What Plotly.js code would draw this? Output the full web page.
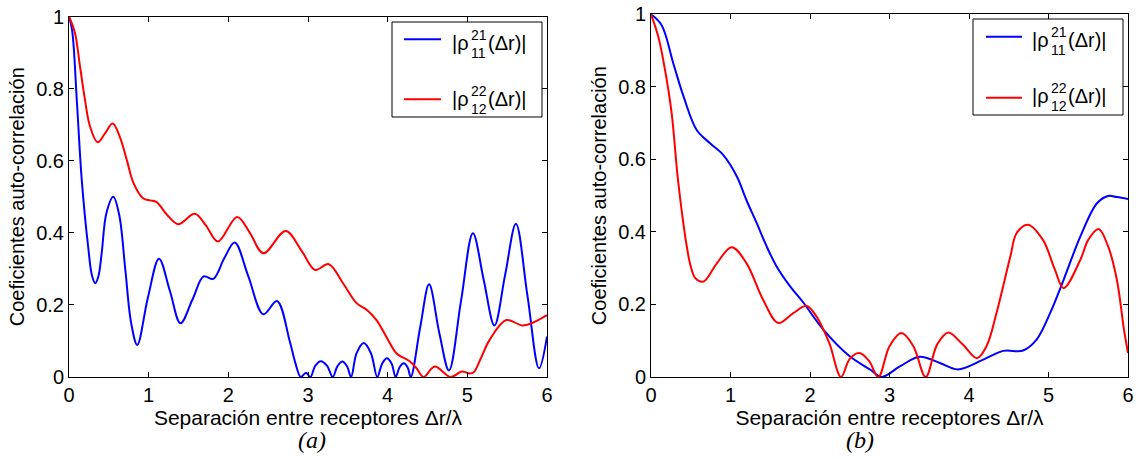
<!DOCTYPE html>
<html>
<head>
<meta charset="utf-8">
<script src="https://cdn.plot.ly/plotly-3.0.1.min.js"></script>
<style>
  html, body { margin: 0; padding: 0; background: #fff; }
  #chart { width: 1136px; height: 459px; }
</style>
</head>
<body>
<div id="chart"></div>
<script>
// Separation between receivers, Δr/λ, and |ρ| values for panel (a)
const sepA_rho11 = [0, 0.04, 0.1, 0.16, 0.24, 0.29, 0.33, 0.37, 0.41, 0.47, 0.556, 0.63, 0.706, 0.78, 0.857, 0.99, 1.13, 1.265, 1.40, 1.55, 1.69, 1.81, 1.95, 2.08, 2.25, 2.44, 2.61, 2.77, 2.84, 2.91, 2.975, 3.03, 3.09, 3.16, 3.24, 3.31, 3.37, 3.43, 3.49, 3.54, 3.61, 3.70, 3.79, 3.87, 3.93, 3.99, 4.05, 4.10, 4.15, 4.20, 4.25, 4.29, 4.41, 4.52, 4.65, 4.77, 4.92, 5.07, 5.205, 5.34, 5.475, 5.61, 5.755, 5.90, 6.0];
const rhoA_11 = [1, 0.96, 0.76, 0.547, 0.362, 0.28, 0.26, 0.28, 0.343, 0.455, 0.50, 0.45, 0.30, 0.15, 0.089, 0.22, 0.328, 0.24, 0.149, 0.215, 0.279, 0.272, 0.33, 0.373, 0.28, 0.174, 0.211, 0.10, 0.04, 0.0, 0.012, 0.0, 0.031, 0.044, 0.031, 0.0, 0.03, 0.043, 0.03, 0.0, 0.066, 0.094, 0.066, 0.0, 0.037, 0.052, 0.037, 0.0, 0.027, 0.038, 0.027, 0.0, 0.14, 0.257, 0.12, 0.018, 0.21, 0.399, 0.27, 0.143, 0.284, 0.425, 0.225, 0.024, 0.112];

const sepA_rho12 = [0, 0.075, 0.138, 0.2, 0.264, 0.36, 0.45, 0.548, 0.64, 0.724, 0.81, 0.93, 1.02, 1.10, 1.23, 1.37, 1.58, 1.72, 1.87, 2.11, 2.27, 2.44, 2.72, 2.92, 3.09, 3.26, 3.44, 3.61, 3.74, 3.86, 4.0, 4.11, 4.28, 4.36, 4.45, 4.59, 4.79, 4.93, 5.03, 5.08, 5.16, 5.28, 5.49, 5.70, 6.0];
const rhoA_12 = [1, 0.954, 0.862, 0.77, 0.695, 0.651, 0.675, 0.703, 0.665, 0.603, 0.538, 0.496, 0.49, 0.485, 0.45, 0.424, 0.453, 0.42, 0.376, 0.444, 0.40, 0.343, 0.405, 0.35, 0.297, 0.313, 0.26, 0.205, 0.186, 0.158, 0.105, 0.066, 0.043, 0.025, 0.0, 0.029, 0.0, 0.015, 0.010, 0.013, 0.047, 0.103, 0.158, 0.143, 0.172];

// Panel (b)
const sepB_rho11 = [0, 0.134, 0.28, 0.41, 0.575, 0.74, 0.91, 1.08, 1.20, 1.33, 1.455, 1.58, 1.75, 1.92, 2.17, 2.50, 2.76, 2.90, 3.13, 3.38, 3.64, 3.86, 4.18, 4.43, 4.68, 4.85, 5.02, 5.19, 5.40, 5.61, 5.75, 5.86, 6.0];
const rhoB_11 = [1, 0.970, 0.865, 0.773, 0.681, 0.645, 0.612, 0.553, 0.488, 0.424, 0.36, 0.305, 0.25, 0.204, 0.130, 0.057, 0.02, 0.0, 0.029, 0.056, 0.038, 0.021, 0.048, 0.072, 0.073, 0.103, 0.176, 0.268, 0.387, 0.479, 0.499, 0.496, 0.491];

const sepB_rho12 = [0, 0.092, 0.176, 0.26, 0.34, 0.45, 0.50, 0.56, 0.66, 0.83, 1.015, 1.20, 1.41, 1.60, 1.79, 1.96, 2.08, 2.17, 2.25, 2.39, 2.50, 2.62, 2.74, 2.86, 3.0, 3.15, 3.30, 3.455, 3.60, 3.74, 3.92, 4.10, 4.22, 4.35, 4.52, 4.60, 4.74, 4.93, 5.08, 5.19, 5.40, 5.50, 5.63, 5.75, 5.86, 5.95, 6.0];
const rhoB_12 = [1, 0.938, 0.847, 0.727, 0.543, 0.36, 0.305, 0.272, 0.263, 0.314, 0.358, 0.314, 0.213, 0.149, 0.176, 0.196, 0.167, 0.13, 0.089, 0.0, 0.05, 0.066, 0.045, 0.0, 0.085, 0.121, 0.085, 0.0, 0.09, 0.123, 0.09, 0.052, 0.085, 0.18, 0.332, 0.397, 0.420, 0.378, 0.296, 0.245, 0.323, 0.378, 0.408, 0.36, 0.268, 0.13, 0.066];

const xTicks = [0, 1, 2, 3, 4, 5, 6];
const yTicks = [0, 0.2, 0.4, 0.6, 0.8, 1];
const yTickText = ['0', '0.2', '0.4', '0.6', '0.8', '1'];

const seriesNames = ['|ρ<sup>21</sup><sub>11</sub>(Δr)|', '|ρ<sup>22</sup><sub>12</sub>(Δr)|'];
const seriesSup = ['21', '22'];
const seriesSub = ['11', '12'];
const seriesColors = ['#0000ff', '#ff0000'];
const panelLabels = ['(a)', '(b)'];
const xTitle = 'Separación entre receptores Δr/λ';
const yTitle = 'Coeficientes auto-correlación';

const W = 1136, H = 459;
const SANS = 'Liberation Sans, Arial, sans-serif';
const SERIF = 'Liberation Serif, Times New Roman, serif';
const px = v => v / W;
const py = v => 1 - v / H;

function curve(x, y, i, xa, ya) {
  return {
    x: x, y: y, name: seriesNames[i], xaxis: xa, yaxis: ya,
    type: 'scatter', mode: 'lines',
    line: { color: seriesColors[i], width: 2, shape: 'spline', smoothing: 1 },
    showlegend: false, hoverinfo: 'x+y'
  };
}

const traces = [
  curve(sepA_rho11, rhoA_11, 0, 'x', 'y'),
  curve(sepA_rho12, rhoA_12, 1, 'x', 'y'),
  curve(sepB_rho11, rhoB_11, 0, 'x2', 'y2'),
  curve(sepB_rho12, rhoB_12, 1, 'x2', 'y2')
];

function xAxis(domain, anchor) {
  return {
    domain: domain, anchor: anchor, range: [0, 6],
    tickmode: 'array', tickvals: xTicks,
    ticks: 'inside', ticklen: 5, tickwidth: 1, tickcolor: '#000',
    showline: true, linecolor: '#000', linewidth: 1, mirror: 'ticks',
    showgrid: false, zeroline: false,
    tickfont: { family: SANS, size: 20, color: '#000' },
    title: { text: xTitle, font: { family: SANS, size: 21, color: '#000' }, standoff: 0 }
  };
}
function yAxis(domain, anchor) {
  return {
    domain: domain, anchor: anchor, range: [0, 1],
    tickmode: 'array', tickvals: yTicks, ticktext: yTickText,
    ticks: 'inside', ticklen: 5, tickwidth: 1, tickcolor: '#000',
    showline: true, linecolor: '#000', linewidth: 1, mirror: 'ticks',
    showgrid: false, zeroline: false,
    tickfont: { family: SANS, size: 20, color: '#000' },
    title: { text: yTitle, font: { family: SANS, size: 20, color: '#000' }, standoff: 6 }
  };
}

// Legend boxes drawn per panel: box, line samples, stacked super/subscript labels
const legendBoxes = [
  { x0: 392, x1: 542, y0: 22, y1: 117, lx0: 404, lx1: 441, ly: [39.3, 99.3], tx: 470, ty: [43, 99] },
  { x0: 973, x1: 1123, y0: 19, y1: 115, lx0: 986, lx1: 1022, ly: [36.7, 97.7], tx: 1050, ty: [40, 96] }
];

const shapes = [];
const annotations = [];
legendBoxes.forEach(b => {
  shapes.push({ type: 'rect', xref: 'paper', yref: 'paper',
    x0: px(b.x0), x1: px(b.x1), y0: py(b.y0), y1: py(b.y1),
    line: { color: '#000', width: 1 }, fillcolor: '#fff' });
  [0, 1].forEach(i => {
    shapes.push({ type: 'line', xref: 'paper', yref: 'paper',
      x0: px(b.lx0), x1: px(b.lx1), y0: py(b.ly[i]), y1: py(b.ly[i]),
      line: { color: seriesColors[i], width: 2 } });
    const base = { xref: 'paper', yref: 'paper', showarrow: false, yanchor: 'middle', borderpad: 0 };
    annotations.push(Object.assign({}, base, { text: '|ρ', x: px(b.tx), y: py(b.ty[i]), xanchor: 'right',
      font: { family: SANS, size: 20, color: '#000' } }));
    annotations.push(Object.assign({}, base, { text: seriesSup[i], x: px(b.tx), y: py(b.ty[i] - 8), xanchor: 'left',
      font: { family: SANS, size: 14, color: '#000' } }));
    annotations.push(Object.assign({}, base, { text: seriesSub[i], x: px(b.tx), y: py(b.ty[i] + 10), xanchor: 'left',
      font: { family: SANS, size: 14, color: '#000' } }));
    annotations.push(Object.assign({}, base, { text: '(Δr)|', x: px(b.tx + 17), y: py(b.ty[i]), xanchor: 'left',
      font: { family: SANS, size: 20, color: '#000' } }));
  });
});

// Panel captions below each plot
annotations.push({ text: '<i>' + panelLabels[0] + '</i>', xref: 'paper', yref: 'paper', x: px(312), y: py(440),
  showarrow: false, xanchor: 'center', yanchor: 'middle', font: { family: SERIF, size: 24, color: '#000' } });
annotations.push({ text: '<i>' + panelLabels[1] + '</i>', xref: 'paper', yref: 'paper', x: px(860), y: py(440),
  showarrow: false, xanchor: 'center', yanchor: 'middle', font: { family: SERIF, size: 24, color: '#000' } });

const layout = {
  width: W, height: H,
  margin: { l: 0, r: 0, t: 0, b: 0 },
  paper_bgcolor: '#fff', plot_bgcolor: '#fff',
  showlegend: false,
  xaxis: xAxis([px(69), px(547)], 'y'),
  yaxis: yAxis([py(377), py(16.5)], 'x'),
  xaxis2: xAxis([px(651), px(1128)], 'y2'),
  yaxis2: yAxis([py(377), py(14.3)], 'x2'),
  shapes: shapes,
  annotations: annotations
};

Plotly.newPlot('chart', traces, layout, { displayModeBar: false, staticPlot: true });
</script>
</body>
</html>
